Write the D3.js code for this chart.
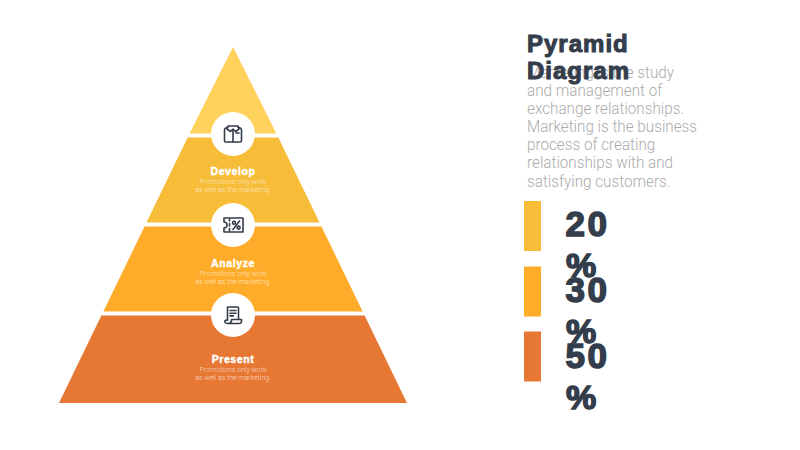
<!DOCTYPE html>
<html><head><meta charset="utf-8">
<script src="https://cdn.jsdelivr.net/npm/d3@7/dist/d3.min.js"></script>
<style>html,body{margin:0;background:#fff}svg{display:block}</style></head>
<body><script>
const layerNames = ["", "Develop", "Analyze", "Present"];
const layerNotes = [[], ["Promotions only work", "as well as the marketing."], ["Promotions only work", "as well as the marketing."], ["Promotions only work", "as well as the marketing."]];
const layerColors = ["#FFD25C", "#F7BC38", "#FFAC2A", "#E77834"];
const titleLines = ["Pyramid", "Diagram"];
const bodyLines = ["Marketing is the study", "and management of", "exchange relationships.", "Marketing is the business", "process of creating", "relationships with and", "satisfying customers."];
const shareValues = [20, 30, 50];
const shareColors = ["#F7BC38", "#FFAC2A", "#E77834"];
const ink = "#343D4B";

const W = 800, H = 450;
const svg = d3.select("body").append("svg").attr("width", W).attr("height", H);
const y = d3.scaleLinear().domain([0, 4]).range([47, 403]);
const half = d3.scaleLinear().domain([47, 403]).range([1.5, 174]);
const cx = 233;
const line = d3.line();
function layerPts(i) {
  const t = i === 0 ? y(0) : y(i) + 1.5;
  const b = i === 3 ? y(4) : y(i + 1) - 2.5;
  const ht = i === 0 ? 0 : half(t);
  return [[cx - ht, t], [cx + ht, t], [cx + half(b), b], [cx - half(b), b], [cx - ht, t]];
}
svg.append("g").selectAll("path").data(layerColors).join("path")
  .attr("d", (d, i) => line(layerPts(i))).attr("fill", d => d);

const icons = [
  g => { // shirt
    g.append("path").attr("d", "M-5 -7 L-8 -5.5 Q-8.5 -5 -8.5 -4 V7 Q-8.5 8 -7.5 8 H7.5 Q8.5 8 8.5 7 V-4 Q8.5 -5 8 -5.5 L5 -7");
    g.append("path").attr("d", "M-5 -8 H5 L6 -5 L2.5 -2.5 L0 -5 L-2.5 -2.5 L-6 -5 Z");
    g.append("path").attr("d", "M0 -4 V8");
    g.append("path").attr("d", "M3 -1 H6").attr("stroke-width", 1.7);
  },
  g => { // coupon
    g.append("path").attr("d", "M-9 -7 H10 V7 H-9 V3 A3 3 0 0 0 -9 -3 Z");
    g.append("path").attr("d", "M-3.5 -6 V-4 M-3.5 -1.5 V1 M-3.5 3.5 V6");
    g.append("path").attr("d", "M6.5 -4 L0 4.5");
    g.append("circle").attr("cx", 1).attr("cy", -2.3).attr("r", 1.5);
    g.append("circle").attr("cx", 5.6).attr("cy", 2.6).attr("r", 1.5);
  },
  g => { // scroll
    g.append("path").attr("d", "M-5.5 5 V-7.5 Q-5.5 -8 -5 -8 H4.5 Q5.5 -8 5.5 -7 V4.5");
    g.append("path").attr("d", "M-5.5 5 Q-8.5 5 -8.2 7 Q-7.5 8.5 -5.5 8.5 H6 Q8.5 8.5 8.5 6.5 V4.5 H-1.5 V6 Q-2 8.5 -5 8.5");
    g.append("path").attr("d", "M-3 -4.5 H3 M-3 -1.8 H3 M-3 0.9 H0.5");
  }
];
const joints = [1, 2, 3];
joints.forEach((k, i) => {
  const g = svg.append("g").attr("transform", `translate(${cx},${y(k) - (k === 1 ? 2 : k === 2 ? 0 : -1)})`);
  g.append("circle").attr("r", 22).attr("fill", "#fff");
  const ig = g.append("g").attr("fill", "none").attr("stroke", ink).attr("stroke-width", 1.6).attr("stroke-linejoin", "round").attr("stroke-linecap", "round");
  icons[i](ig);
});

const labelY = [0, 175, 267, 363];
const noteY = [0, 184, 276, 372];
layerNames.forEach((n, i) => {
  if (!n) return;
  svg.append("text").attr("x", cx).attr("y", labelY[i]).attr("text-anchor", "middle")
    .attr("font-family", "Liberation Sans").attr("font-weight", 700).attr("font-size", 10.5)
    .attr("letter-spacing", 0.6).attr("fill", "#fff").attr("stroke", "#fff").attr("stroke-width", 0.4).text(n);
  layerNotes[i].forEach((t, j) => {
    svg.append("text").attr("x", cx).attr("y", noteY[i] + j * 8).attr("text-anchor", "middle")
      .attr("font-family", "Roboto").attr("font-weight", 300).attr("font-size", 7)
      .attr("fill", "#fff").attr("fill-opacity", 0.72).text(t);
  });
});

svg.append("g").attr("transform", "translate(527,0) scale(0.93,1)").selectAll("text").data(bodyLines).join("text")
  .attr("x", 0).attr("y", (d, i) => 78 + i * 18.1)
  .attr("font-family", "Roboto").attr("font-weight", 300).attr("font-size", 16.4)
  .attr("fill", "#ABABAB").text(d => d);
svg.append("g").selectAll("text").data(titleLines).join("text")
  .attr("x", 527).attr("y", (d, i) => 52 + i * 27)
  .attr("font-family", "Liberation Sans").attr("font-weight", 700).attr("font-size", 24)
  .attr("letter-spacing", 1).attr("fill", ink).attr("stroke", ink).attr("stroke-width", 1).text(d => d);

const barH = 50;
const rowY = [201, 266.5, 331.5];
const digitY = [236, 302, 368];
shareValues.forEach((v, i) => {
  svg.append("rect").attr("x", 524).attr("y", rowY[i]).attr("width", 17).attr("height", barH).attr("fill", shareColors[i]);
  const t = svg.append("g").attr("font-family", "Liberation Sans").attr("font-weight", 700).attr("font-size", 35)
    .attr("fill", ink).attr("stroke", ink).attr("stroke-width", 1.5);
  t.append("text").attr("x", 565.5).attr("y", digitY[i]).attr("letter-spacing", 2.5).text(v);
  t.append("text").attr("x", 566).attr("y", digitY[i] + 41).attr("font-size", 34).text("%");
});
</script></body></html>
